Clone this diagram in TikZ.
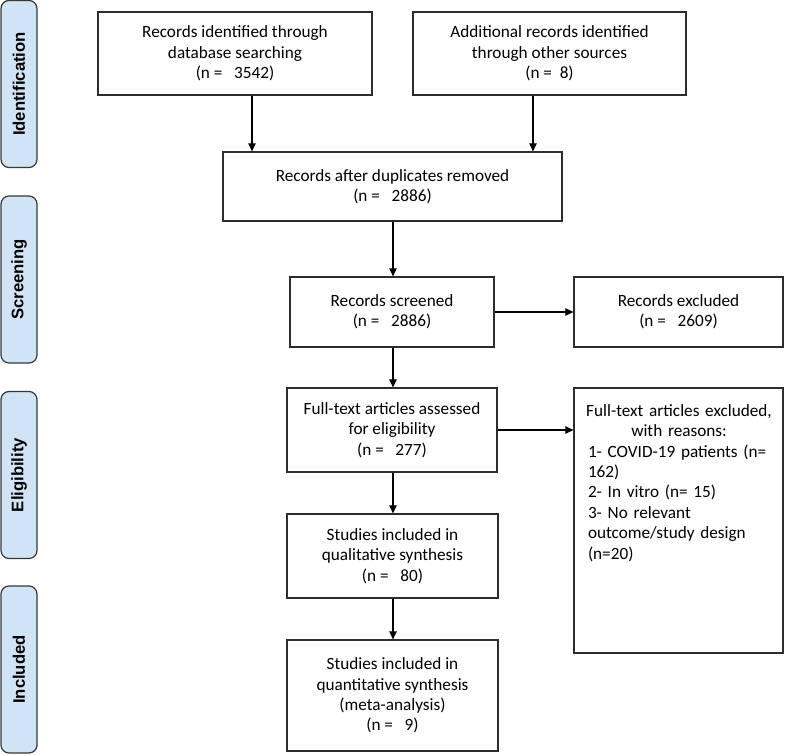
\documentclass[tikz,border=0pt]{standalone}
\usepackage{fontspec}
\setmainfont{Carlito}
\newfontfamily\sidefont{Liberation Sans}
\usetikzlibrary{arrows.meta}
\definecolor{sidefill}{RGB}{208,228,245}
\definecolor{sideline}{RGB}{55,55,55}
\definecolor{boxline}{RGB}{45,45,45}
\begin{document}
\begin{tikzpicture}[x=0.75pt,y=-0.75pt,
  box/.style={draw=boxline, line width=0.9pt, align=center, inner sep=0pt,
    font=\fontsize{12.9}{15.3}\selectfont},
  bx/.style 2 args={minimum width=#1*0.75pt, minimum height=#2*0.75pt},
  side/.style={draw=sideline, fill=sidefill, rounded corners=6pt, line width=0.9pt,
    rotate=90, inner sep=0pt, minimum width=167*0.75pt, minimum height=36*0.75pt,
    font=\sidefont\bfseries\fontsize{12.5}{14}\selectfont},
  arr/.style={line width=0.8pt, -{Triangle[length=6pt,width=5.5pt]}}
]
\useasboundingbox (0,0) rectangle (785,755);
% side labels
\node[side] (sid) at (19,84) {Identification};
\node[side] (sscr) at (19,279.5) {Screening};
\node[side] (sel) at (19,475) {Eligibility};
\node[side] (sinc) at (19,669.5) {Included};
% boxes
\node[box, bx={274}{83}] (b1) at (235,53.5) {Records identified through\\database searching\\(n = \ \ 3542)};
\node[box, bx={273}{83}] (b2) at (549.5,53.5) {Additional records identified\\through other sources\\(n = \ 8)};
\node[box, bx={339}{69}] (b3) at (392.5,186.5) {Records after duplicates removed\\(n = \ \ 2886)};
\node[box, bx={204}{70}] (scr) at (392,312) {Records screened\\(n = \ \ 2886)};
\node[box, bx={209}{70}] (exc) at (678.5,312) {Records excluded\\(n = \ \ 2609)};
\node[box, bx={210}{84}] (ft) at (392,430) {Full-text articles assessed\\for eligibility\\(n = \ \ 277)};
\node[box, bx={209}{265}] (ftx) at (678.5,520.5) {};
\node[anchor=north, inner sep=0pt, text width=182*0.75pt, align=left,
  font=\fontsize{12.9}{15.3}\selectfont] (ftxt) at (679,404)
  {\makebox[\linewidth][c]{Full-text articles excluded,}\\
   \makebox[\linewidth][c]{with reasons:}\\
   1- COVID-19 patients (n=\\162)\\2- In vitro (n= 15)\\3- No relevant\\outcome/study design\\(n=20)};
\node[box, bx={211}{84}] (qual) at (392.5,556) {Studies included in\\qualitative synthesis\\(n = \ \ 80)};
\node[box, bx={211}{111}] (quant) at (392.5,695.5) {Studies included in\\quantitative synthesis\\(meta-analysis)\\(n = \ \ 9)};
% arrows
\coordinate (a1) at (252,0);
\coordinate (a2) at (533,0);
\coordinate (a3) at (393,0);
\draw[arr] (b1.south -| a1) -- (b3.north -| a1);
\draw[arr] (b2.south -| a2) -- (b3.north -| a2);
\draw[arr] (b3.south -| a3) -- (scr.north -| a3);
\draw[arr] (scr.east) -- (exc.west);
\draw[arr] (scr.south -| a3) -- (ft.north -| a3);
\draw[arr] (ft.east) -- (ft.east -| ftx.west);
\draw[arr] (ft.south -| a3) -- (qual.north -| a3);
\draw[arr] (qual.south -| a3) -- (quant.north -| a3);
\end{tikzpicture}
\end{document}
